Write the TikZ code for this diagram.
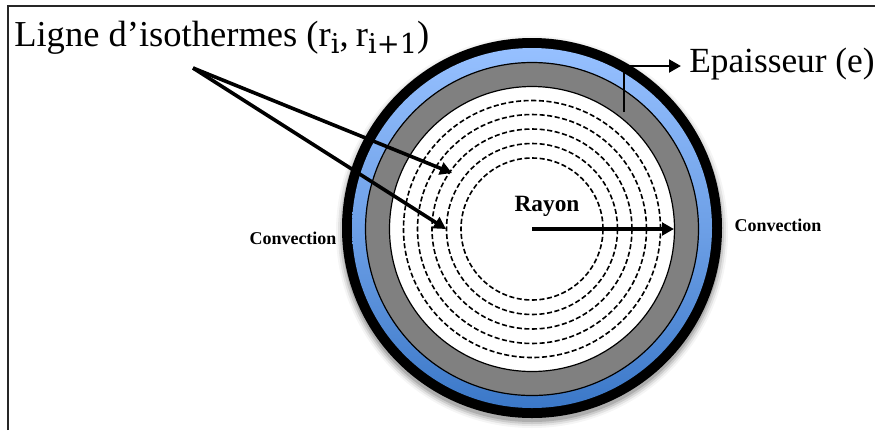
\documentclass[tikz,border=0pt]{standalone}
\usepackage{fontspec}
\setmainfont{Liberation Serif}
\newfontfamily\subfont{DejaVu Serif}
\usetikzlibrary{arrows.meta}
\definecolor{bluetop}{HTML}{96C0FF}
\definecolor{bluebot}{HTML}{3B78C8}
\definecolor{wallgrey}{HTML}{808080}
\newcommand{\px}{0.75pt}
\tikzset{
  ring/.style={circle,minimum size=#1*0.75pt,inner sep=0pt,outer sep=0pt},
  isoline/.style={draw=black,line width=1.2pt,dash pattern=on 3.8pt off 1.9pt},
  thickarrow/.style={line width=2.7pt,-{Triangle[length=9pt,width=9.5pt]}},
  biglabel/.style={font=\fontsize{27.4}{27}\selectfont,inner sep=0pt,anchor=base west},
  smalllabel/.style={font=\bfseries\fontsize{13.5}{14}\selectfont,inner sep=0pt},
}
\newcommand{\lowsub}[1]{\raisebox{-0.2em}{\subfont\fontsize{20.5}{21}\selectfont #1}}
\begin{document}
\begin{tikzpicture}[x=\px,y=-\px]
\useasboundingbox (0,0) rectangle (875,430);
\fill[white] (0,0) rectangle (875,430);
% frame
\draw[line width=1.1pt,black!85] (8,430) -- (8,6) -- (875,6);
% soft shadow
\foreach \r/\o in {196/0.04,194/0.07,192/0.10,190/0.14}{
  \fill[black,opacity=\o] (532,232) circle[radius=\r*\px];
}
% rings
\node[ring=380,fill=black] (outer) at (532,228) {};
\node[ring=360,top color=bluetop,bottom color=bluebot,middle color=bluetop!55!bluebot] (blue) at (532,228) {};
\node[ring=333,fill=wallgrey,draw=black,line width=0.9pt] (wall) at (532,229) {};
\node[ring=285,fill=white,draw=black,line width=0.9pt] (inner) at (532,229) {};
% isotherms
\foreach \d/\n in {257/a,229/b,200/c,171/d,142/e}{
  \node[ring=\d,isoline] (iso\n) at (532,229) {};
}
% text
\node[biglabel] (title) at (14,46) {Ligne d’isothermes (r\lowsub{i},\kern-0.05em\ r\lowsub{i+1})};
\node[biglabel,font=\fontsize{26.5}{27}\selectfont] (epais) at (689,72) {Epaisseur (e)};
\node[smalllabel] (rayon) at (547,206) {\fontsize{17.5}{18}\selectfont Rayon};
\node[smalllabel] (convL) at (293,238) {Convection};
\node[smalllabel] (convR) at (778,225) {Convection};
% connectors
\coordinate (src) at (193,68);
\coordinate (t1) at (452,173);
\coordinate (t2) at (446,229);
\coordinate (c) at (532,229);
\coordinate (r) at (674,229);
\coordinate (w) at (624,112);
\coordinate (k) at (624,66);
\coordinate (e) at (681,66);
\draw[thickarrow] (src) -- (t1);
\draw[thickarrow] (src) -- (t2);
\draw[thickarrow] (c) -- (r);
\draw[line width=2.2pt,-{Triangle[length=9pt,width=9.5pt]}] (w) -- (k) -- (e);
\end{tikzpicture}
\end{document}
